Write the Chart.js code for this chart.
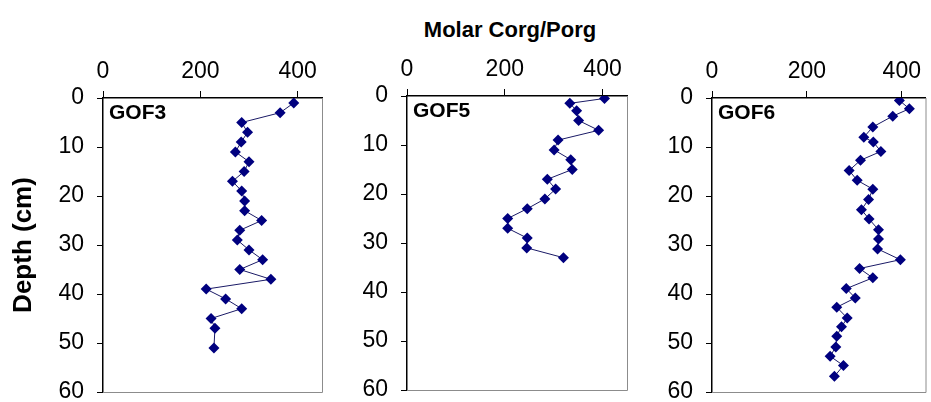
<!DOCTYPE html>
<html>
<head>
<meta charset="utf-8">
<script src="https://cdn.jsdelivr.net/npm/chart.js@4.4.0/dist/chart.umd.min.js"></script>
<style>
  body { margin: 0; background: #fff; width: 931px; height: 402px; overflow: hidden; position: relative; font-family: "Liberation Sans", Arial, sans-serif; }
  canvas { position: absolute; top: 0; }
  #title { position: absolute; top: 19px; left: 510px; transform: translateX(-50%); font-weight: bold; font-size: 22px; line-height: 1; white-space: nowrap; color: #000; }
</style>
</head>
<body>
<div id="title">Molar Corg/Porg</div>
<canvas id="c1" width="330" height="402" style="left:0px"></canvas>
<canvas id="c2" width="305" height="402" style="left:330px"></canvas>
<canvas id="c3" width="296" height="402" style="left:635px"></canvas>
<script>
const xTicks = [0, 200, 400];
const yTicks = [0, 10, 20, 30, 40, 50, 60];

// GOF3
const gof3Depth = [1, 3, 5, 7, 9, 11, 13, 15, 17, 19, 21, 23, 25, 27, 29, 31, 33, 35, 37, 39, 41, 43, 45, 47, 51];
const gof3Ratio = [392, 364, 285, 297, 284, 272, 300, 290, 266, 285, 291, 291, 326, 281, 276, 300, 328, 281, 345, 212, 252, 285, 222, 230, 228];

// GOF5
const gof5Depth = [0.5, 1.5, 3, 5, 7, 9, 11, 13, 15, 17, 19, 21, 23, 25, 27, 29, 31, 33];
const gof5Ratio = [404, 333, 347, 351, 392, 309, 301, 335, 338, 287, 304, 282, 246, 206, 206, 246, 245, 320];

// GOF6
const gof6Depth = [0.5, 2.2, 3.7, 5.9, 8, 9, 10.9, 12.7, 14.8, 16.8, 18.6, 20.7, 22.8, 24.7, 26.9, 28.8, 30.8, 33, 34.8, 36.7, 38.9, 40.8, 42.7, 44.9, 46.7, 48.6, 50.8, 52.7, 54.6, 56.8];
const gof6Ratio = [395, 416, 381, 339, 320, 340, 356, 313, 289, 306, 339, 330, 315, 331, 351, 351, 349, 397, 311, 339, 283, 302, 263, 285, 273, 263, 261, 249, 277, 258];

const FONT = '"Liberation Sans", Arial, sans-serif';
const NAVY = '#00007f';

const panelLabel = {
  id: 'panelLabel',
  afterDraw(chart, args, opts) {
    const { ctx, chartArea } = chart;
    ctx.save();
    // grey frame on right and bottom
    ctx.strokeStyle = '#8c8c8c';
    ctx.lineWidth = 1;
    ctx.beginPath();
    ctx.moveTo(chartArea.left, chartArea.bottom + 0.5);
    ctx.lineTo(chartArea.right + 0.5, chartArea.bottom + 0.5);
    ctx.lineTo(chartArea.right + 0.5, chartArea.top);
    ctx.stroke();
    ctx.fillStyle = '#000';
    ctx.font = 'bold 21px ' + FONT;
    ctx.textBaseline = 'top';
    ctx.textAlign = 'left';
    ctx.fillText(opts.text, chartArea.left + 6, chartArea.top + 5);
    ctx.restore();
  }
};

function makePanel(canvas, name, depth, ratio, yWidth, xHeight, pad, showTitle) {
  const points = depth.map((d, i) => ({ x: ratio[i], y: d }));
  return new Chart(canvas, {
    type: 'scatter',
    data: {
      datasets: [{
        data: points,
        showLine: true,
        borderColor: '#1a1a66',
        borderWidth: 1,
        pointStyle: 'rectRot',
        pointRadius: 5.5,
        pointBackgroundColor: NAVY,
        pointBorderColor: NAVY,
        pointBorderWidth: 0
      }]
    },
    options: {
      responsive: false,
      animation: false,
      layout: { padding: pad },
      plugins: {
        legend: { display: false },
        tooltip: { enabled: false },
        panelLabel: { text: name }
      },
      scales: {
        x: {
          type: 'linear',
          position: 'top',
          min: 0,
          max: 450,
          afterBuildTicks: (s) => { s.ticks = xTicks.map(v => ({ value: v })); },
          afterFit: (s) => { s.height = xHeight; s.paddingLeft = 0; s.paddingRight = 0; },
          ticks: { color: '#000', font: { family: FONT, size: 23 }, padding: 6, maxRotation: 0 },
          grid: { drawOnChartArea: false, color: '#000', tickLength: 7, lineWidth: 1 },
          border: { color: '#000', width: 1.5 }
        },
        y: {
          type: 'linear',
          reverse: true,
          min: 0,
          max: 60,
          afterBuildTicks: (s) => { s.ticks = yTicks.map(v => ({ value: v })); },
          afterFit: (s) => { s.width = yWidth; s.paddingTop = 0; s.paddingBottom = 0; },
          ticks: { color: '#000', font: { family: FONT, size: 23 }, padding: 13 },
          grid: { drawOnChartArea: false, color: '#000', tickLength: 6, lineWidth: 1 },
          border: { color: '#000', width: 1.5 },
          title: {
            display: showTitle,
            text: 'Depth (cm)',
            color: '#000',
            font: { family: FONT, size: 26, weight: 'bold' },
            padding: { top: 8, bottom: 4 }
          }
        }
      }
    },
    plugins: [panelLabel]
  });
}

makePanel(document.getElementById('c1'), 'GOF3', gof3Depth, gof3Ratio, 103, 98, { left: 0, top: 0, right: 8, bottom: 10 }, true);
makePanel(document.getElementById('c2'), 'GOF5', gof5Depth, gof5Ratio, 77, 96, { left: 0, top: 0, right: 8, bottom: 12 }, false);
makePanel(document.getElementById('c3'), 'GOF6', gof6Depth, gof6Ratio, 77, 98, { left: 0, top: 0, right: 1, bottom: 10 }, false);
</script>
</body>
</html>
